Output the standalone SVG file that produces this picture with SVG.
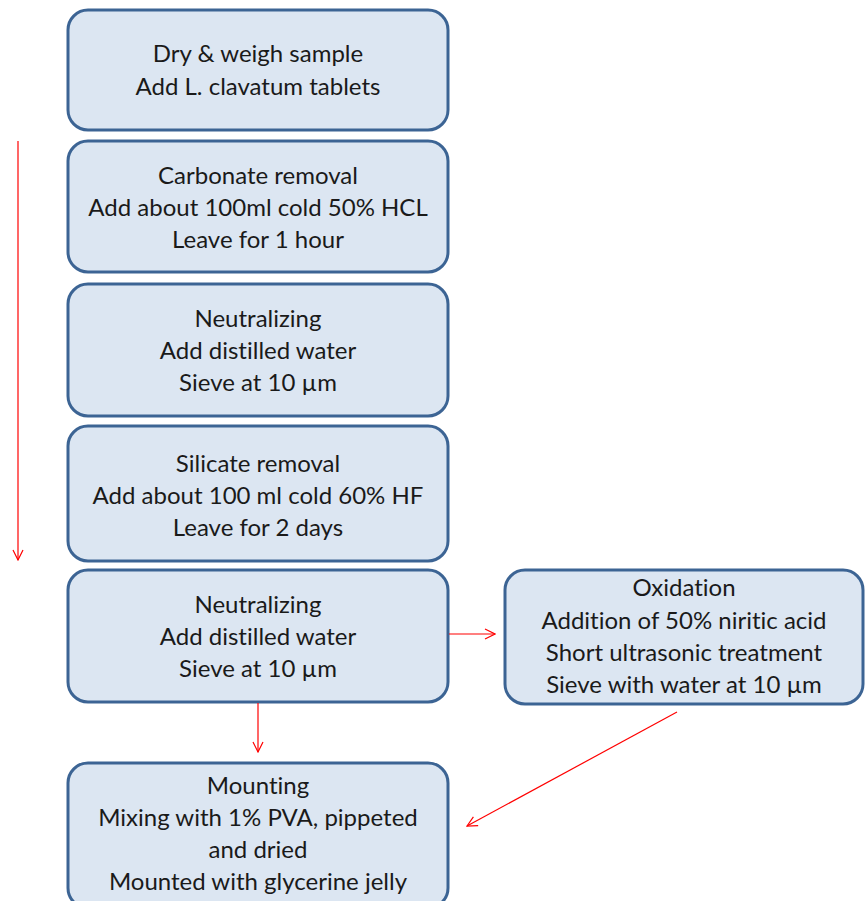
<svg xmlns="http://www.w3.org/2000/svg" width="865" height="901" viewBox="0 0 865 901">
<defs>
<style>
.box{fill:#dce6f2;stroke:#3c6494;stroke-width:3}
.t{font-family:Lato,"Open Sans","Liberation Sans",sans-serif;font-size:24px;fill:#1a1a1a;text-anchor:middle;font-variant-ligatures:none;font-feature-settings:"liga" 0}
.c{stroke:#ff0000;stroke-width:1.2;fill:none}
</style>
<marker id="ah" viewBox="0 0 12 12" refX="11" refY="6" markerWidth="12" markerHeight="12" markerUnits="userSpaceOnUse" orient="auto">
<path d="M1,1 L11,6 L1,11" fill="none" stroke="#ff0000" stroke-width="1.2"/>
</marker>
</defs>
<g id="n1">
<rect class="box" x="68" y="10" width="380" height="120" rx="20"/>
<text class="t" x="258" y="62">Dry &amp; weigh sample</text>
<text class="t" x="258" y="95">Add L. clavatum tablets</text>
</g>
<g id="n2">
<rect class="box" x="68" y="141" width="380" height="131" rx="20"/>
<text class="t" x="258" y="184">Carbonate removal</text>
<text class="t" x="258" y="216">Add about 100ml cold 50% HCL</text>
<text class="t" x="258" y="248">Leave for 1 hour</text>
</g>
<g id="n3">
<rect class="box" x="68" y="284" width="380" height="132" rx="20"/>
<text class="t" x="258" y="327">Neutralizing</text>
<text class="t" x="258" y="359">Add distilled water</text>
<text class="t" x="258" y="391">Sieve at 10 µm</text>
</g>
<g id="n4">
<rect class="box" x="68" y="426" width="380" height="135" rx="20"/>
<text class="t" x="258" y="472">Silicate removal</text>
<text class="t" x="258" y="504">Add about 100 ml cold 60% HF</text>
<text class="t" x="258" y="536">Leave for 2 days</text>
</g>
<g id="n5">
<rect class="box" x="68" y="570" width="380" height="132" rx="20"/>
<text class="t" x="258" y="613">Neutralizing</text>
<text class="t" x="258" y="645">Add distilled water</text>
<text class="t" x="258" y="677">Sieve at 10 µm</text>
</g>
<g id="n6">
<rect class="box" x="505" y="570" width="358" height="134" rx="20"/>
<text class="t" x="684" y="596">Oxidation</text>
<text class="t" x="684" y="629">Addition of 50% niritic acid</text>
<text class="t" x="684" y="661">Short ultrasonic treatment</text>
<text class="t" x="684" y="693">Sieve with water at 10 µm</text>
</g>
<g id="n7">
<rect class="box" x="68" y="763" width="380" height="145" rx="20"/>
<text class="t" x="258" y="794">Mounting</text>
<text class="t" x="258" y="826">Mixing with 1% PVA, pippeted</text>
<text class="t" x="258" y="858">and dried</text>
<text class="t" x="258" y="890">Mounted with glycerine jelly</text>
</g>
<g id="connectors">
<line class="c" x1="18" y1="141" x2="18" y2="560" marker-end="url(#ah)"/>
<line class="c" x1="449" y1="634" x2="495" y2="634" marker-end="url(#ah)"/>
<line class="c" x1="258" y1="703" x2="258" y2="752" marker-end="url(#ah)"/>
<line class="c" x1="677" y1="712" x2="467" y2="826" marker-end="url(#ah)"/>
</g>
</svg>
